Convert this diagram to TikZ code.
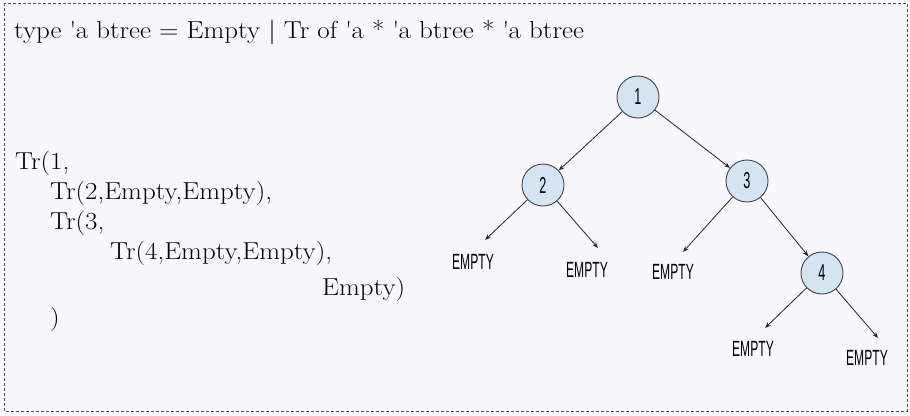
\documentclass[tikz,border=0pt]{standalone}
\usepackage{fontspec}
\setmainfont{Latin Modern Roman}[FakeStretch=1.1]
\newfontfamily\treefont[FakeStretch=0.55]{Liberation Sans}
\usetikzlibrary{arrows.meta}
\definecolor{bgc}{HTML}{F8F8FC}
\definecolor{nodefill}{HTML}{D5E4F2}
\definecolor{nodeline}{HTML}{3B4452}
\definecolor{framec}{HTML}{555555}
\tikzset{
  tnode/.style={circle, draw=nodeline, fill=nodefill, line width=0.9pt, minimum size=42pt, inner sep=0pt, font=\treefont\fontsize{23}{23}\selectfont},
  leaf/.style={inner sep=0pt, font=\treefont\fontsize{22}{22}\selectfont},
  code/.style={anchor=base west, inner sep=0pt, font=\fontsize{24.5}{28}\selectfont},
  edge/.style={draw=black!85, line width=0.8pt, -{Stealth[length=6pt,width=4.5pt]}},
}
\newcommand{\q}{\textquotesingle}
\begin{document}
\begin{tikzpicture}[x=1pt,y=-1pt]
\fill[bgc] (0,0) rectangle (910,415);
\useasboundingbox (0,0) rectangle (910,415);
\draw[framec, line width=0.7pt, dash pattern=on 3pt off 2pt] (4,3) rectangle (907,411);
% texts
\node[code] (title) at (14,38) {type \q a btree = Empty | Tr of \q a * \q a btree * \q a btree};
\node[code] (c1) at (15,169) {Tr(1,};
\node[code] (c2) at (50,199) {Tr(2,Empty,Empty),};
\node[code] (c3) at (50,229) {Tr(3,};
\node[code] (c4) at (110,259) {Tr(4,Empty,Empty),};
\node[code] (c5) at (322,295) {Empty)};
\node[code] (c6) at (50,325) {)};
% tree
\node[tnode] (n1) at (638,97) {1};
\node[tnode] (n2) at (543,185) {2};
\node[tnode] (n3) at (747,181) {3};
\node[tnode] (n4) at (822,273) {4};
\node[leaf] (e1) at (473,262) {EMPTY};
\node[leaf] (e2) at (587,270) {EMPTY};
\node[leaf] (e3) at (673,272) {EMPTY};
\node[leaf] (e4) at (753,349) {EMPTY};
\node[leaf] (e5) at (867,358) {EMPTY};
\coordinate (a1) at (485,240);
\coordinate (a2) at (598,248);
\coordinate (a3) at (683,252);
\coordinate (a4) at (765,328);
\coordinate (a5) at (878,338);
\draw[edge] (n1) -- (n2);
\draw[edge] (n1) -- (n3);
\draw[edge] (n3) -- (n4);
\draw[edge] (n2) -- (a1);
\draw[edge] (n2) -- (a2);
\draw[edge] (n3) -- (a3);
\draw[edge] (n4) -- (a4);
\draw[edge] (n4) -- (a5);
\end{tikzpicture}
\end{document}
